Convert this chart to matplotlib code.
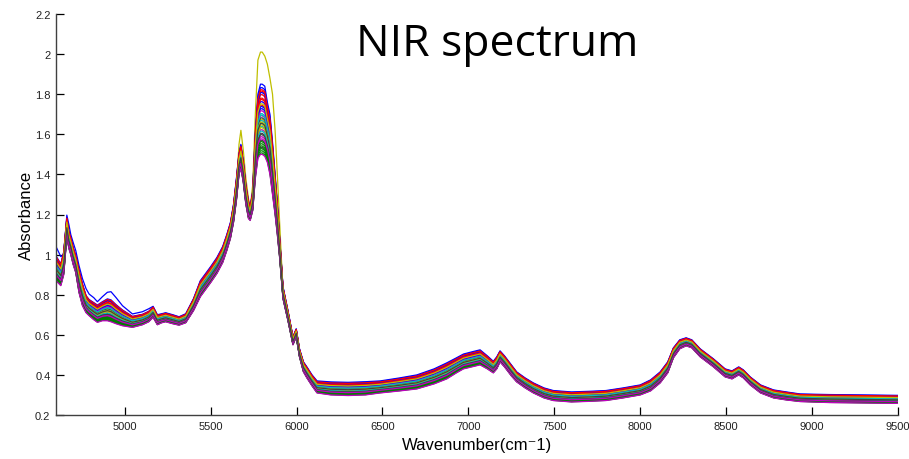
import numpy as np
import matplotlib
matplotlib.use("Agg")
import matplotlib.pyplot as plt
from matplotlib.ticker import FormatStrFormatter, MultipleLocator

# ---------------- data ----------------
wavenumber = [4600, 4628, 4645, 4663, 4675, 4686, 4700, 4715, 4734, 4754,
              4775, 4793, 4820, 4841, 4870, 4899, 4920, 4950, 4987, 5045,
              5103, 5140, 5165, 5190, 5215, 5238, 5280, 5316, 5355, 5400,
              5440, 5500, 5536, 5570, 5594, 5615, 5633, 5650, 5665, 5676,
              5690, 5705, 5720, 5730, 5745, 5760, 5775, 5790, 5800, 5815,
              5830, 5845, 5860, 5875, 5888, 5902, 5921, 5950, 5979, 5998,
              6017, 6040, 6060, 6090, 6119, 6200, 6300, 6400, 6487, 6600,
              6700, 6800, 6874, 6930, 6971, 7020, 7068, 7110, 7145, 7165,
              7184, 7210, 7250, 7281, 7330, 7378, 7440, 7494, 7600, 7700,
              7800, 7900, 8000, 8060, 8116, 8160, 8193, 8230, 8267, 8300,
              8349, 8426, 8494, 8534, 8573, 8600, 8640, 8700, 8776, 8850,
              8930, 9100, 9300, 9500]

# lower edge of the main band of spectra
band_lower = [0.87, 0.845, 0.90, 1.09, 1.03, 1.00, 0.95, 0.91, 0.81, 0.745,
              0.71, 0.695, 0.675, 0.662, 0.67, 0.67, 0.665, 0.655, 0.645, 0.637,
              0.65, 0.665, 0.687, 0.65, 0.66, 0.665, 0.655, 0.648, 0.66, 0.72,
              0.79, 0.86, 0.905, 0.96, 1.02, 1.08, 1.16, 1.27, 1.40, 1.43,
              1.36, 1.25, 1.18, 1.17, 1.22, 1.38, 1.48, 1.50, 1.50, 1.49,
              1.46, 1.40, 1.30, 1.20, 1.10, 0.98, 0.78, 0.67, 0.55, 0.59,
              0.49, 0.415, 0.385, 0.345, 0.31, 0.30, 0.297, 0.30, 0.31, 0.32,
              0.33, 0.355, 0.38, 0.41, 0.43, 0.44, 0.45, 0.43, 0.41, 0.43,
              0.465, 0.44, 0.395, 0.365, 0.335, 0.31, 0.285, 0.272, 0.265, 0.268,
              0.272, 0.285, 0.30, 0.32, 0.36, 0.41, 0.485, 0.53, 0.545, 0.535,
              0.49, 0.44, 0.39, 0.38, 0.40, 0.385, 0.35, 0.31, 0.285, 0.275,
              0.267, 0.262, 0.26, 0.258]

# upper edge of the main band of spectra
band_upper = [1.00, 0.96, 1.02, 1.19, 1.12, 1.09, 1.04, 1.00, 0.93, 0.86,
              0.80, 0.78, 0.765, 0.753, 0.77, 0.785, 0.78, 0.755, 0.728, 0.695,
              0.705, 0.72, 0.742, 0.70, 0.705, 0.71, 0.70, 0.69, 0.705, 0.78,
              0.87, 0.94, 0.985, 1.04, 1.10, 1.16, 1.25, 1.38, 1.51, 1.55,
              1.47, 1.35, 1.27, 1.24, 1.32, 1.62, 1.80, 1.85, 1.85, 1.84,
              1.76, 1.70, 1.56, 1.40, 1.26, 1.08, 0.84, 0.72, 0.59, 0.63,
              0.53, 0.465, 0.44, 0.40, 0.37, 0.365, 0.363, 0.366, 0.37, 0.385,
              0.40, 0.43, 0.46, 0.485, 0.504, 0.515, 0.525, 0.495, 0.468, 0.49,
              0.52, 0.495, 0.45, 0.415, 0.385, 0.36, 0.335, 0.322, 0.315, 0.318,
              0.322, 0.335, 0.35, 0.375, 0.415, 0.465, 0.535, 0.575, 0.585, 0.575,
              0.53, 0.48, 0.43, 0.42, 0.44, 0.425, 0.39, 0.35, 0.325, 0.315,
              0.305, 0.302, 0.30, 0.298]

# relative position of each sample inside the band (0 = lower, 1 = upper)
sample_position = [1.00, 0.02, 0.85, 0.40, 0.55, 0.60, 0.10,
                   0.75, 0.05, 0.90, 0.45, 0.35, 0.50, 0.30,
                   0.65, 0.15, 0.80, 0.58, 0.25, 0.42, 0.20,
                   0.95, 0.08, 0.70, 0.48, 0.62, 0.38, 0.52,
                   0.88, 0.12, 0.78, 0.33, 0.00, 0.46, 0.28,
                   0.68, 0.18, 0.92, 0.56, 0.22, 0.72, 0.44]

# outlier samples traced separately (wavenumber -> absorbance)
blue_outlier = {4600: 1.04, 4628: 0.99, 4645: 1.00, 4663: 1.197, 4675: 1.15,
                4686: 1.10, 4700: 1.06, 4715: 1.02, 4734: 0.945, 4754: 0.88,
                4775: 0.83, 4793: 0.803, 4820: 0.785, 4841: 0.765, 4870: 0.79,
                4899: 0.812, 4920: 0.815, 4950: 0.785, 4987: 0.745, 5045: 0.704,
                5103: 0.715, 5140: 0.73}
yellow_outlier = {5665: 1.55, 5676: 1.62, 5690: 1.52, 5705: 1.38, 5720: 1.28,
                  5730: 1.23, 5745: 1.35, 5760: 1.70, 5775: 1.97, 5790: 2.01,
                  5800: 2.01, 5815: 1.99, 5830: 1.95, 5845: 1.88, 5860: 1.80,
                  5875: 1.62, 5888: 1.40, 5902: 1.15}
outliers = {0: blue_outlier, 5: yellow_outlier}

x_ticks = [5000, 5500, 6000, 6500, 7000, 7500, 8000, 8500, 9000, 9500]

# ---------------- figure ----------------
W, H = 909, 460
fig = plt.figure(figsize=(W / 100, H / 100), dpi=100)
ax = fig.add_axes([56 / W, (H - 416) / H, (898 - 56) / W, (416 - 15) / H])

line_colors = [(0, 0, 1), (0, 0.5, 0), (1, 0, 0), (0, 0.75, 0.75),
               (0.75, 0, 0.75), (0.75, 0.75, 0), (0.25, 0.25, 0.25)]

wn = np.array(wavenumber, dtype=float)
lo = np.array(band_lower)
hi = np.array(band_upper)
for i, t in enumerate(sample_position):
    y = lo + t * (hi - lo)
    if i in outliers:
        for k, w in enumerate(wavenumber):
            if w in outliers[i]:
                y[k] = outliers[i][w]
    ax.plot(wn, y, color=line_colors[i % 7], lw=0.9)

ax.set_xlim(4600, 9500)
ax.set_ylim(0.2, 2.2)
ax.set_xticks(x_ticks)
ax.yaxis.set_major_locator(MultipleLocator(0.2))
ax.yaxis.set_major_formatter(FormatStrFormatter('%g'))

for s in ['top', 'right']:
    ax.spines[s].set_visible(False)
for s in ['left', 'bottom']:
    ax.spines[s].set_color('#404040')
    ax.spines[s].set_linewidth(1.0)

tick_font = 'Liberation Sans'
ax.tick_params(direction='in', length=6, width=0.9, color='black',
               labelsize=8, pad=4)
for lab in ax.get_xticklabels() + ax.get_yticklabels():
    lab.set_fontfamily(tick_font)
    lab.set_color('#222222')

ax.set_xlabel('Wavenumber(cm\u207b1)', fontsize=12, family=[tick_font, 'DejaVu Sans'],
              labelpad=5)
ax.set_ylabel('Absorbance', fontsize=12, family=tick_font, labelpad=1)

fig.text(497 / W, 1 - 56 / H, 'NIR spectrum', ha='center', va='baseline',
         fontsize=32, family='Open Sans')

fig.savefig('out.png', dpi=100)
